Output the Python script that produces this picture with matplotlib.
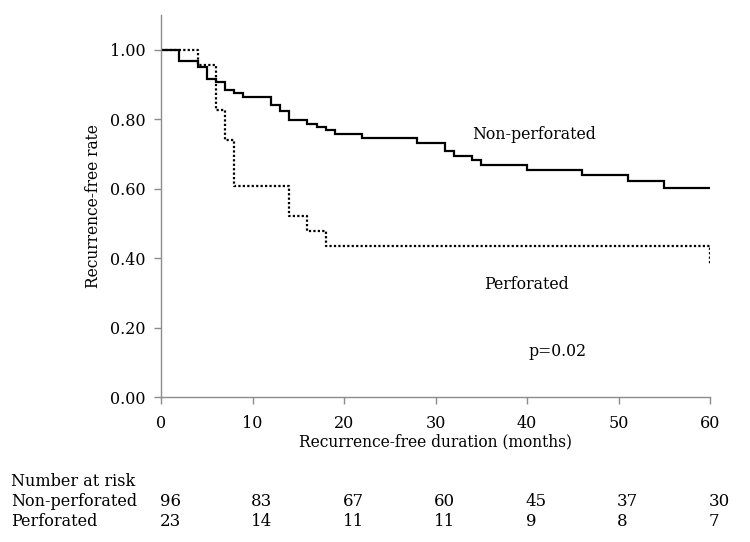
import matplotlib
matplotlib.use("Agg")
import matplotlib.pyplot as plt

# Kaplan-Meier step data
nonperf_t = [0, 2, 4, 5, 6, 7, 8, 9, 12, 13, 14, 16, 17, 18, 19, 22, 28, 31, 32, 34, 35, 40, 46, 51, 55, 60]
nonperf_s = [1.00, 0.968, 0.949, 0.916, 0.906, 0.883, 0.875, 0.864, 0.842, 0.823, 0.798, 0.787, 0.777,
             0.768, 0.756, 0.745, 0.732, 0.707, 0.695, 0.682, 0.669, 0.654, 0.638, 0.621, 0.602, 0.602]

perf_t = [0, 4, 6, 7, 8, 14, 16, 18, 60, 60]
perf_s = [1.00, 0.957, 0.826, 0.739, 0.609, 0.522, 0.478, 0.435, 0.435, 0.380]

risk_times = [0, 10, 20, 30, 40, 50, 60]
risk_nonperf = [96, 83, 67, 60, 45, 37, 30]
risk_perf = [23, 14, 11, 11, 9, 8, 7]

x_ticks = [0, 10, 20, 30, 40, 50, 60]
y_ticks = [0.0, 0.2, 0.4, 0.6, 0.8, 1.0]

FONT = "DejaVu Serif"
plt.rcParams['font.family'] = [FONT]

fig = plt.figure(figsize=(7.5, 5.42), dpi=100)
ax = fig.add_axes([161/750, 1-397/542, (710-161)/750, (397-15)/542])

ax.plot(nonperf_t, nonperf_s, drawstyle='steps-post', color='black', lw=1.6, solid_joinstyle='miter')
ax.plot(perf_t, perf_s, drawstyle='steps-post', color='black', lw=1.6, linestyle=(0, (1, 1)))

ax.set_xlim(0, 60)
ax.set_ylim(0, 1.10)
ax.set_xticks(x_ticks)
ax.set_yticks(y_ticks)
ax.set_yticklabels([f"{v:.2f}" for v in y_ticks])

for s in ['top', 'right']:
    ax.spines[s].set_visible(False)
for s in ['left', 'bottom']:
    ax.spines[s].set_color('#8c8c8c')
    ax.spines[s].set_linewidth(1.0)
ax.tick_params(axis='both', colors='#8c8c8c', labelcolor='black', length=5, width=1, labelsize=11.5)
ax.tick_params(axis='x', pad=8)
ax.tick_params(axis='y', pad=6)

ax.set_xlabel("Recurrence-free duration (months)", fontsize=11.2, labelpad=1)
ax.set_ylabel("Recurrence-free rate", fontsize=11.2, labelpad=6)

ax.text(34.0, 0.755, "Non-perforated", fontsize=11.3, va='center', ha='left')
ax.text(35.3, 0.323, "Perforated", fontsize=11.3, va='center', ha='left')
ax.text(40.2, 0.13, "p=0.02", fontsize=11.3, va='center', ha='left')

# Number at risk table
fig.text(11/750, 1-482/542, "Number at risk", fontsize=11.5, va='center', ha='left')
fig.text(11/750, 1-502/542, "Non-perforated", fontsize=11.5, va='center', ha='left')
fig.text(11/750, 1-522/542, "Perforated", fontsize=11.5, va='center', ha='left')
for t, a, b in zip(risk_times, risk_nonperf, risk_perf):
    ax.annotate(str(a), xy=(t, 1-502/542), xycoords=('data', 'figure fraction'),
                xytext=(-1, 0), textcoords='offset points',
                fontsize=12, va='center', ha='left', annotation_clip=False)
    ax.annotate(str(b), xy=(t, 1-522/542), xycoords=('data', 'figure fraction'),
                xytext=(-1, 0), textcoords='offset points',
                fontsize=12, va='center', ha='left', annotation_clip=False)

fig.savefig("out.png", dpi=100)
